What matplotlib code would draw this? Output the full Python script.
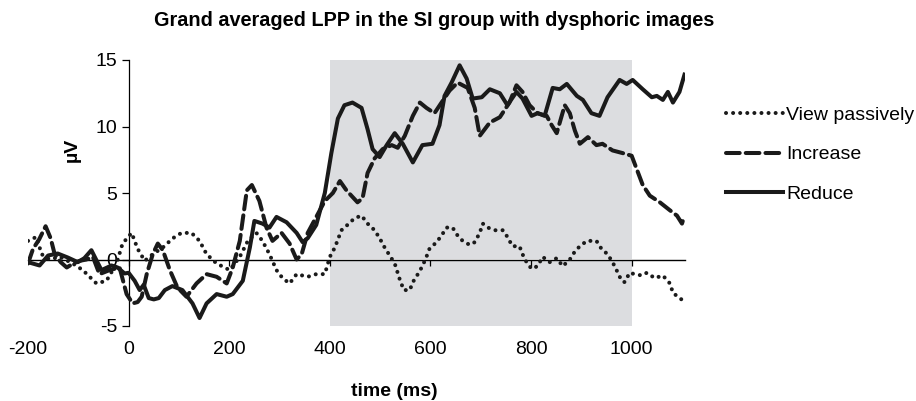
"""Grand averaged LPP waveforms (SI group, dysphoric images)."""
import numpy as np
import matplotlib
matplotlib.use("Agg")
import matplotlib.pyplot as plt

plt.rcParams.update({"font.family": ["Liberation Sans", "DejaVu Sans"], "font.size": 14,
                     "axes.unicode_minus": False})

# --- data (time in ms, amplitude in µV) ---
view_t = [-200, -183, -173, -157, -137, -111, -91, -64, -44, -24, -12, 6, 18, 32, 48, 68, 88, 105,
          125, 141, 155, 175, 201, 221, 237, 254, 266, 280, 294, 306, 320, 334, 356, 373, 390, 400,
          410, 423, 435, 449, 463, 475, 489, 499, 509, 519, 529, 539, 547, 559, 565, 575, 584, 592,
          598, 612, 622, 632, 644, 654, 664, 678, 688, 698, 704, 714, 728, 744, 753, 763, 777, 783,
          791, 801, 813, 823, 837, 851, 863, 877, 887, 897, 911, 930, 940, 952, 962, 970, 980, 986,
          996, 1006, 1020, 1030, 1046, 1062, 1076, 1082, 1095, 1103]
view_v = [1.4, 1.7, 0.4, 0.0, 0.2, -0.3, -0.8, -1.8, -1.6, -0.3, 1.2, 2.0, 0.8, -0.1, 0.4, 0.9, 1.6, 2.0,
          2.0, 1.4, 0.4, -0.3, -0.8, 0.2, 1.4, 2.0, 1.4, 0.4, -0.8, -1.4, -1.8, -1.1, -1.3, -1.1, -1.1, 0.2,
          0.9, 2.2, 2.6, 3.1, 3.3, 2.7, 2.2, 1.6, 0.9, 0.3, -0.3, -1.5, -2.3, -2.3, -1.7, -1.1, -0.5, 0.2,
          0.8, 1.3, 1.8, 2.4, 2.4, 1.8, 1.4, 1.1, 1.3, 2.0, 2.7, 2.4, 2.2, 2.2, 1.7, 1.0, 1.0, 0.4,
          -0.2, -0.7, -0.5, 0.2, -0.2, 0.1, -0.5, 0.0, 0.6, 1.0, 1.4, 1.4, 0.8, 0.4, -0.2, -0.8, -1.6, -1.7,
          -1.0, -1.1, -1.2, -1.0, -1.4, -1.2, -1.8, -2.5, -2.9, -3.1]

incr_t = [-200, -190, -178, -165, -155, -147, -135, -123, -110, -97, -84, -71, -58, -38, -18, -4, 8, 18,
          26, 36, 48, 58, 68, 82, 97, 115, 135, 155, 175, 195, 207, 221, 235, 245, 260, 274, 286, 304,
          320, 334, 344, 356, 373, 390, 406, 420, 433, 455, 465, 475, 489, 505, 523, 535, 549, 565, 579,
          592, 608, 622, 638, 654, 674, 688, 698, 718, 738, 757, 771, 783, 797, 813, 831, 841, 851, 867,
          877, 887, 897, 913, 930, 942, 962, 982, 1000, 1010, 1022, 1036, 1056, 1076, 1090, 1100, 1105]
incr_v = [-0.3, 0.8, 1.5, 2.5, 1.6, 0.4, -0.2, -0.6, -0.3, -0.1, 0.0, 0.2, -1.1, -0.8, -0.6, -2.6, -3.3, -3.2,
          -2.8, -1.1, 0.4, 1.2, 0.7, -0.8, -2.1, -2.8, -1.8, -1.1, -1.3, -1.8, -0.6, 1.4, 5.2, 5.6, 4.4, 2.4, 1.4, 2.0,
          1.2, 0.0, 0.4, 2.0, 3.2, 4.4, 5.0, 5.9, 5.2, 4.3, 4.6, 6.5, 7.6, 8.3, 8.6, 8.4, 9.3, 10.8, 11.8,
          11.4, 11.0, 11.8, 12.7, 13.3, 12.9, 11.4, 9.3, 10.3, 10.7, 11.8, 13.1, 12.6, 11.6, 11.0, 10.8, 10.1, 9.5, 11.6,
          11.0, 9.7, 8.7, 9.2, 8.6, 8.7, 8.2, 8.0, 7.8, 6.8, 5.6, 4.8, 4.3, 3.7, 3.3, 2.7, 3.3]

red_t = [-200, -177, -160, -141, -121, -101, -88, -74, -54, -34, -22, -8, 0, 12, 22, 30, 40, 50, 60, 72,
         87, 107, 127, 141, 155, 175, 195, 207, 227, 241, 250, 266, 280, 294, 314, 334, 346, 356, 373,
         390, 403, 416, 429, 445, 463, 475, 485, 499, 513, 529, 545, 565, 584, 604, 618, 628, 642, 658,
         672, 684, 702, 718, 738, 753, 771, 783, 801, 813, 827, 843, 857, 871, 891, 903, 920, 936, 952,
         976, 990, 1002, 1022, 1040, 1050, 1062, 1072, 1082, 1095, 1105]
red_v = [-0.2, -0.45, 0.3, 0.45, 0.15, -0.2, 0.1, 0.7, -0.8, -0.45, -0.6, -1.05, -1.0, -1.6, -2.3, -1.9, -2.9, -3.0, -2.9, -2.3,
         -2.0, -2.3, -3.3, -4.4, -3.3, -2.6, -2.8, -2.6, -1.6, 0.9, 2.9, 2.7, 2.4, 3.2, 2.8, 2.0, 1.3, 1.6, 2.6,
         5.0, 8.0, 10.6, 11.6, 11.8, 11.4, 9.8, 8.3, 7.7, 8.6, 9.5, 8.7, 7.3, 8.6, 8.7, 10.1, 12.3, 13.3, 14.6,
         13.6, 12.1, 12.2, 12.8, 12.5, 11.6, 12.6, 12.1, 10.8, 11.0, 10.8, 12.9, 12.8, 13.2, 12.3, 12.0, 11.0, 10.8, 12.2,
         13.5, 13.2, 13.5, 12.8, 12.2, 12.3, 12.0, 12.6, 11.8, 12.6, 13.9]

window = (400, 1000)
x_ticks = [-200, 0, 200, 400, 600, 800, 1000]
y_ticks = [-5, 0, 5, 10, 15]
ylim = (-5, 15)

fig = plt.figure(figsize=(9.16, 4.01), dpi=100)
ax = fig.add_axes([28/916, 75/401, 657/916, 266/401])
ax.set_xlim(-200, 1106)
ax.set_ylim(*ylim)

ax.axvspan(*window, color="#dcdde0", lw=0, zorder=0)

lw = 2.9
ax.plot(view_t, view_v, color="#1a1a1a", lw=lw, ls=(0, (0.01, 1.75)), dash_capstyle="round",
        label="View passively", zorder=3)
ax.plot(incr_t, incr_v, color="#1a1a1a", lw=lw, ls=(0, (3.4, 1.5)), dash_capstyle="round",
        label="Increase", zorder=3)
ax.plot(red_t, red_v, color="#1a1a1a", lw=lw, ls="-", solid_joinstyle="round",
        label="Reduce", zorder=3)

# y axis crosses at t=0, x axis line at 0 uV, tick labels at the bottom
for s in ["top", "right", "bottom"]:
    ax.spines[s].set_visible(False)
ax.spines["left"].set_position(("data", 0))
ax.spines["left"].set_linewidth(0.9)
ax.set_yticks(y_ticks)
ax.tick_params(axis="y", length=5, width=0.9, pad=3)
ax.set_xticks(x_ticks)
ax.tick_params(axis="x", length=0, pad=10.5)

zero_pos = (0 - ylim[0]) / (ylim[1] - ylim[0])
sec = ax.secondary_xaxis(zero_pos)
sec.set_xticks(x_ticks[1:])
sec.tick_params(labelbottom=False, length=4, width=0.9)
sec.spines["bottom"].set_linewidth(1.0)

fig.text(72/916, 1 - 150/401, "µV", rotation=90, ha="center", va="center", fontweight="bold")
fig.text(394/916, 1 - 392/401, "time (ms)", ha="center", va="center", fontweight="bold")
fig.text(434/916, 1 - 21/401, "Grand averaged LPP in the SI group with dysphoric images",
         ha="center", va="center", fontweight="bold", fontsize=14.3)

fig.legend(loc="upper left", bbox_to_anchor=(726/916, 1 - 106/401), frameon=False,
           handlelength=2.95, handletextpad=0.15, labelspacing=1.14, borderpad=0, borderaxespad=0)

fig.savefig("out.png", dpi=100)
